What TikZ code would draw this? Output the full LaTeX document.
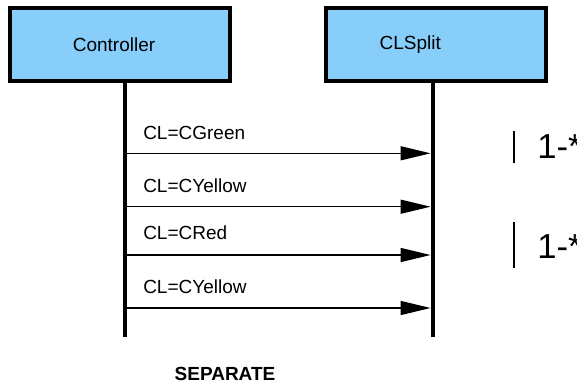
\documentclass[tikz,border=0pt]{standalone}
\usepackage{fontspec}
\setmainfont{Liberation Sans}
\usetikzlibrary{arrows.meta}
\definecolor{boxblue}{RGB}{135,206,250}
\begin{document}
\begin{tikzpicture}[x=0.75pt,y=-0.75pt,
  objbox/.style={draw=black,fill=boxblue,line width=3pt,rectangle,
    minimum width=165pt,minimum height=54pt,inner sep=0pt},
  objname/.style={font=\fontsize{14.25}{17}\selectfont},
  lifeline/.style={line width=3pt},
  msg/.style={line width=1pt,-{Triangle[length=22.5pt,width=10.5pt]},shorten >=1.8pt},
  msglabel/.style={anchor=base west,inner sep=0pt,font=\fontsize{14.25}{17}\selectfont},
  bracketbar/.style={line width=1pt},
  mult/.style={anchor=base west,inner sep=0pt,font=\fontsize{26}{30}\selectfont},
  caption/.style={anchor=base,inner sep=0pt,font=\bfseries\fontsize{14.25}{17}\selectfont}]
\useasboundingbox (0,0) rectangle (577,385);

% object boxes
\node[objbox,label={[objname,xshift=-4.5pt]center:Controller}] (ctrl) at (120,44.5) {};
\node[objbox,label={[objname,xshift=-19pt]center:CLSplit}] (split) at (435.5,44.5) {};

% lifeline ends
\coordinate (ctrlEnd) at (124.5,336.5);
\coordinate (splitEnd) at (433,336.5);
\draw[lifeline] (ctrl.south -| ctrlEnd) -- (ctrlEnd);
\draw[lifeline] (split.south -| splitEnd) -- (splitEnd);

% message anchor points on the lifelines
\coordinate (c1) at (125,153.3); \coordinate (s1) at (433,153.3);
\coordinate (c2) at (125,206.7); \coordinate (s2) at (433,206.7);
\coordinate (c3) at (125,255);   \coordinate (s3) at (433,255);
\coordinate (c4) at (125,308);   \coordinate (s4) at (433,308);

\draw[msg] (c1) -- (s1);
\draw[msg] (c2) -- (s2);
\draw[msg] (c3) -- (s3);
\draw[msg] (c4) -- (s4);

\node[msglabel] (l1) at (143,139) {CL=CGreen};
\node[msglabel] (l2) at (143,192) {CL=CYellow};
\node[msglabel] (l3) at (143,239) {CL=CRed};
\node[msglabel] (l4) at (143,293) {CL=CYellow};

% multiplicity markers
\draw[bracketbar] (514,131) -- (514,163);
\node[mult] (m1) at (537,158) {1-*};
\draw[bracketbar] (514,222) -- (514,268);
\node[mult] (m2) at (537,258) {1-*};

\node[caption] (sep) at (225,380) {SEPARATE};
\end{tikzpicture}
\end{document}
